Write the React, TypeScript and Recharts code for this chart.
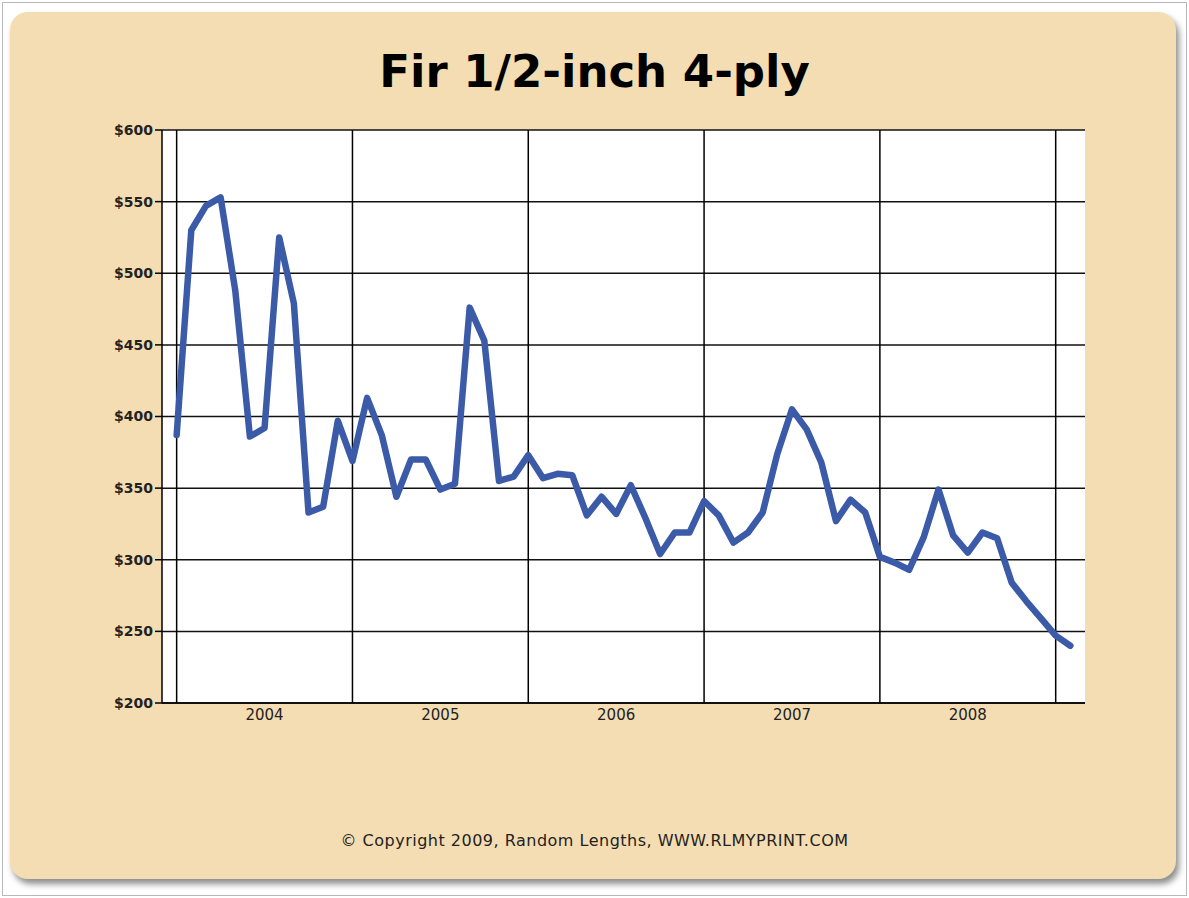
import React from 'react';
import { LineChart, Line, XAxis, YAxis, CartesianGrid, ReferenceLine } from 'recharts';

// Monthly prices ($ per MSF), index 0 = first month shown
const prices: number[] = [
  387, 530, 547, 553, 488, 386, 392, 525, 479, 333, 337, 397,
  369, 413, 387, 344, 370, 370, 349, 353, 476, 453, 355, 358,
  373, 357, 360, 359, 331, 344, 332, 352, 329, 304, 319, 319,
  341, 331, 312, 319, 333, 374, 405, 391, 368, 327, 342, 333,
  302, 298, 293, 316, 349, 317, 305, 319, 315, 284, 271, 259,
  247, 240,
];
const yearLabels: string[] = ['2004', '2005', '2006', '2007', '2008'];
const yearStartIndex: number[] = [0, 12, 24, 36, 48, 60];
const yearLabelIndex: number[] = [6, 18, 30, 42, 54];
const yTicks: number[] = [200, 250, 300, 350, 400, 450, 500, 550, 600];

const data = prices.map((p, i) => ({ i, p }));

export default function App() {
  return (
    <div style={{ position: 'absolute', left: 0, top: 0, width: 1189, height: 898, background: '#fff', overflow: 'hidden' }}>
      <div style={{ position: 'absolute', left: 2, top: 2, width: 1183, height: 892, border: '1px solid #b8b8c0' }} />
      <div
        style={{
          position: 'absolute', left: 10, top: 12, width: 1166, height: 867,
          background: '#F4DDB2', borderRadius: 18,
          boxShadow: '3px 5px 6px rgba(0,0,0,0.45)',
        }}
      />
      <div
        style={{
          position: 'absolute', left: 0, top: 44, width: 1189, textAlign: 'center',
          fontFamily: '"DejaVu Sans", sans-serif', fontWeight: 'bold', fontSize: 45,
          color: '#000', lineHeight: '56px',
        }}
      >
        Fir 1/2-inch 4-ply
      </div>
      <div style={{ position: 'absolute', left: 0, top: 0 }}>
        <LineChart
          width={1189}
          height={898}
          data={data}
          margin={{ top: 130, right: 104, bottom: 165, left: 102 }}
        >
          <CartesianGrid fill="#ffffff" vertical={false} stroke="#111" strokeWidth={1.5} horizontalValues={yTicks} />
          <XAxis
            dataKey="i"
            type="number"
            domain={[-1, 62]}
            ticks={yearLabelIndex}
            tickFormatter={(v: number) => yearLabels[yearLabelIndex.indexOf(v)] ?? ''}
            tickLine={false}
            axisLine={{ stroke: '#000', strokeWidth: 1.5 }}
            tick={{ fill: '#222', fontSize: 15, fontFamily: '"DejaVu Sans", sans-serif' }}
            tickMargin={0}
            height={30}
            interval={0}
          />
          <YAxis
            type="number"
            domain={[200, 600]}
            ticks={yTicks}
            tickFormatter={(v: number) => `$${v}`}
            tickLine={{ stroke: '#000', strokeWidth: 1.5 }}
            tickSize={7}
            tickMargin={2}
            axisLine={{ stroke: '#000', strokeWidth: 1.5 }}
            tick={{ fill: '#222', fontSize: 14, fontFamily: '"DejaVu Sans", sans-serif', fontWeight: 'bold' }}
            width={60}
            interval={0}
          />
          {yearStartIndex.map((x) => (
            <ReferenceLine key={x} x={x} stroke="#000" strokeWidth={1.5} />
          ))}
          <Line
            type="linear"
            dataKey="p"
            stroke="#3B5AA8"
            strokeWidth={6.5}
            dot={false}
            strokeLinejoin="round"
            strokeLinecap="round"
            isAnimationActive={false}
          />
        </LineChart>
      </div>
      <div
        style={{
          position: 'absolute', left: 0, top: 831, width: 1189, textAlign: 'center',
          fontFamily: '"DejaVu Sans", sans-serif', fontSize: 16, letterSpacing: 0.5, color: '#222', lineHeight: '20px',
        }}
      >
        © Copyright 2009, Random Lengths, WWW.RLMYPRINT.COM
      </div>
    </div>
  );
}
